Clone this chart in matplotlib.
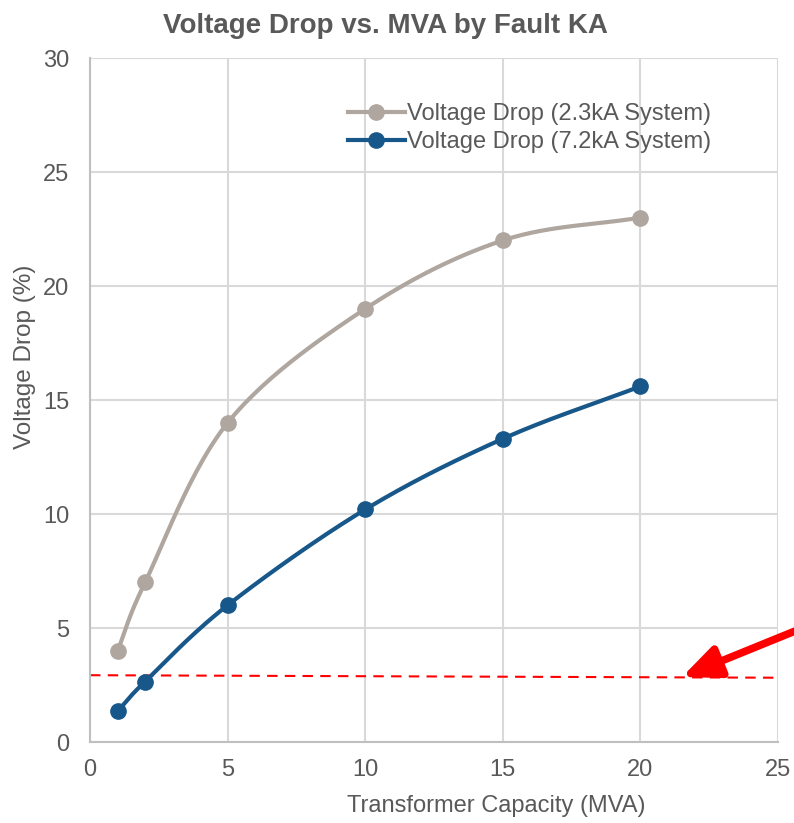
import numpy as np
import matplotlib
matplotlib.use("Agg")
import matplotlib.pyplot as plt

plt.rcParams['font.family'] = ['Liberation Sans', 'DejaVu Sans']

mva = [1, 2, 5, 10, 15, 20]
drop_23ka = [4, 7, 14, 19, 22, 23]
drop_72ka = [1.35, 2.65, 6, 10.2, 13.3, 15.6]
limit_x = [0, 25]
limit_y = [2.93, 2.82]

xticks = [0, 5, 10, 15, 20, 25]
yticks = [0, 5, 10, 15, 20, 25, 30]

grey_c = '#aea69f'
blue_c = '#17578a'
text_c = '#595959'


def smooth(x, y, n=30):
    # catmull-rom style smoothing, like excel's smoothed line
    x = np.asarray(x, float)
    y = np.asarray(y, float)
    px = np.concatenate([[2 * x[0] - x[1]], x, [2 * x[-1] - x[-2]]])
    py = np.concatenate([[2 * y[0] - y[1]], y, [2 * y[-1] - y[-2]]])
    xs, ys = [], []
    t = np.linspace(0, 1, n)
    for i in range(1, len(px) - 2):
        p0, p1, p2, p3 = [np.array([px[j], py[j]]) for j in range(i - 1, i + 3)]
        c1 = p1 + (p2 - p0) / 6
        c2 = p2 - (p3 - p1) / 6
        pts = ((1 - t) ** 3)[:, None] * p1 + (3 * (1 - t) ** 2 * t)[:, None] * c1 \
            + (3 * (1 - t) * t ** 2)[:, None] * c2 + (t ** 3)[:, None] * p2
        xs.extend(pts[:, 0])
        ys.extend(pts[:, 1])
    return xs, ys


fig = plt.figure(figsize=(7.94, 8.23), dpi=100)
ax = fig.add_axes([0.1134, 0.0984, 0.8665, 0.8311])

for y, c, lab in [(drop_23ka, grey_c, 'Voltage Drop (2.3kA System)'),
                  (drop_72ka, blue_c, 'Voltage Drop (7.2kA System)')]:
    sx, sy = smooth(mva, y)
    ax.plot(sx, sy, color=c, lw=3, zorder=3)
    ax.plot(mva, y, 'o', color=c, ms=11, zorder=4)
    ax.plot([], [], '-o', color=c, lw=3, ms=11, label=lab)

ax.plot(limit_x, limit_y, '--', color='red', lw=1.5, dashes=(5, 3.5), zorder=2)

ax.annotate('', xy=(682 / 794, 1 - 677 / 823), xycoords='figure fraction',
            xytext=(805 / 794, 1 - 627 / 823), textcoords='figure fraction',
            arrowprops=dict(arrowstyle='-|>,head_length=1.6,head_width=0.7',
                            mutation_scale=14, color='red', lw=5.5,
                            shrinkA=0, shrinkB=0),
            annotation_clip=False)

ax.set_xlim(0, 25)
ax.set_ylim(0, 30)
ax.set_xticks(xticks)
ax.set_yticks(yticks)
ax.grid(True, color='#d9d9d9', lw=1.5)
ax.set_axisbelow(True)
for s in ['top', 'right']:
    ax.spines[s].set_visible(False)
for s in ['left', 'bottom']:
    ax.spines[s].set_color('#bfbfbf')
    ax.spines[s].set_linewidth(1.5)
ax.tick_params(axis='y', length=0, labelsize=17, colors=text_c, pad=15)
ax.tick_params(axis='x', length=0, labelsize=17, colors=text_c, pad=12)

ax.set_xlabel('Transformer Capacity (MVA)', fontsize=17, color=text_c)
ax.xaxis.set_label_coords(0.59, -0.077)
ax.set_ylabel('Voltage Drop (%)', fontsize=17.5, color=text_c)
ax.yaxis.set_label_coords(-0.079, 0.563)
ax.set_title('Voltage Drop vs. MVA by Fault KA', fontsize=20, fontweight='bold',
             color=text_c, x=0.43, pad=18)

leg = ax.legend(loc='upper left', bbox_to_anchor=(0.361, 0.948), frameon=False,
                fontsize=17, handlelength=2.4, handletextpad=0.1,
                labelspacing=0.25, borderaxespad=0)
for t in leg.get_texts():
    t.set_color(text_c)

fig.savefig('out.png', dpi=100)
